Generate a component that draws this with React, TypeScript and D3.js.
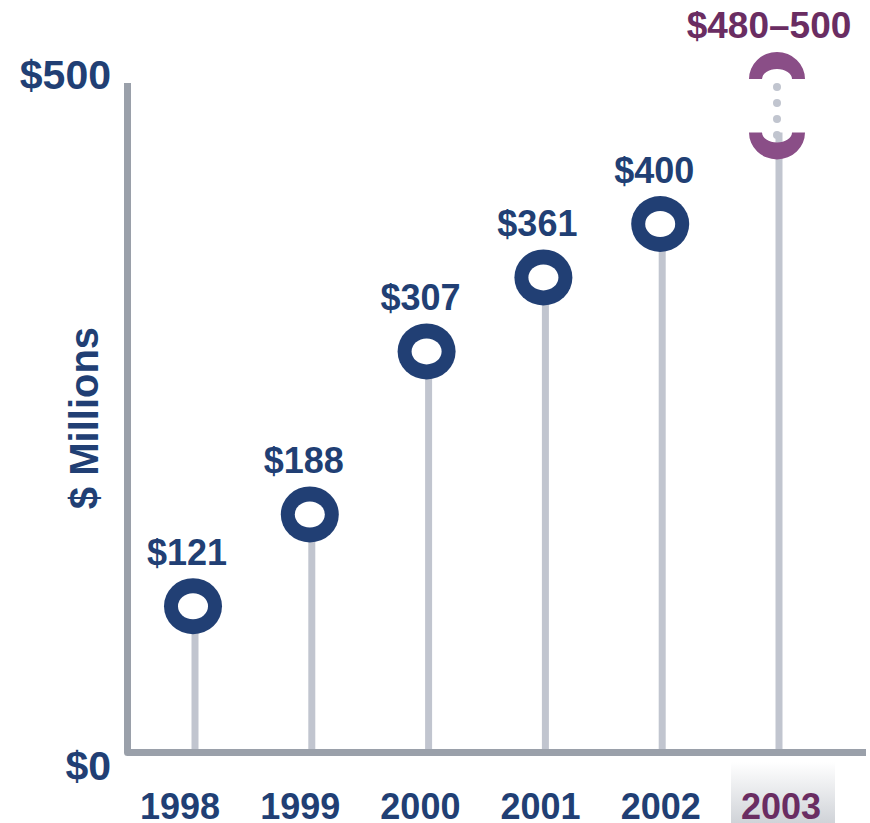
import React from "react";
import * as d3 from "d3";

const years = ["1998", "1999", "2000", "2001", "2002", "2003"];
const actualYears = ["1998", "1999", "2000", "2001", "2002"];
const values = [121, 188, 307, 361, 400];
const valueLabels = ["$121", "$188", "$307", "$361", "$400"];
const projectedYear = "2003";
const projectedRange = [480, 500];
const projectedLabel = "$480–500";
const yTicks = [0, 500];
const yTickLabels = ["$0", "$500"];
const yTitle = "$ Millions";

const W = 870;
const H = 823;
const NAVY = "#213f74";
const PURPLE = "#8a4e87";
const PURPLE_TEXT = "#6a2d62";
const STEM = "#c1c5cf";
const AXIS = "#9aa0aa";
const FONT = "'Liberation Sans', Arial, Helvetica, sans-serif";

export default function App() {
  const x = d3.scalePoint<string>().domain(years).range([195, 779]);
  const xLab = d3.scalePoint<string>().domain(years).range([180, 781]);
  const y = d3.scaleLinear().domain([0, 500]).range([772, 87]);
  const baseY = 752.5;
  const axisX = 127.5;

  const px = x(projectedYear) as number;
  const topCy = y(projectedRange[1]) - 8;
  const botCy = y(projectedRange[0]) + 18;
  const orx = 28, ory = 27, irx = 15, iry = 10;
  const topArc = `M${px - orx},${topCy} A${orx},${ory} 0 0 1 ${px + orx},${topCy} L${px + irx},${topCy} A${irx},${iry} 0 0 0 ${px - irx},${topCy} Z`;
  const botArc = `M${px - orx},${botCy} A${orx},${ory} 0 0 0 ${px + orx},${botCy} L${px + irx},${botCy} A${irx},${iry} 0 0 1 ${px - irx},${botCy} Z`;
  const dots = d3.range(4).map((i) => topCy + 8 + i * 16);

  const labX = xLab(projectedYear) as number;

  return (
    <svg
      width={W}
      height={H}
      style={{ position: "absolute", left: 0, top: 0, background: "#fff" }}
      fontFamily={FONT}
      fontWeight="bold"
    >
      <defs>
        <linearGradient id="g2003" x1="0" y1="0" x2="0" y2="1">
          <stop offset="0" stopColor="#ffffff" />
          <stop offset="1" stopColor="#d0d3d8" />
        </linearGradient>
      </defs>

      {/* stems */}
      {actualYears.map((yr, i) => (
        <line
          key={"s" + yr}
          x1={x(yr)}
          x2={x(yr)}
          y1={y(values[i])}
          y2={baseY}
          stroke={STEM}
          strokeWidth={7}
        />
      ))}
      <line x1={px} x2={px} y1={botCy} y2={baseY} stroke={STEM} strokeWidth={7} />

      {/* axes */}
      <path
        d={`M${axisX},${y(500) - 4} V${baseY} H866`}
        fill="none"
        stroke={AXIS}
        strokeWidth={7}
        strokeLinejoin="round"
      />

      {/* rings */}
      {actualYears.map((yr, i) => (
        <g key={"r" + yr}>
          <ellipse cx={(x(yr) as number) - 2} cy={y(values[i])} rx={29} ry={28} fill={NAVY} />
          <ellipse cx={(x(yr) as number) - 2} cy={y(values[i])} rx={15} ry={13} fill="#fff" />
        </g>
      ))}

      {/* value labels */}
      {actualYears.map((yr, i) => (
        <text
          key={"v" + yr}
          x={(x(yr) as number) - 8}
          y={y(values[i]) - 41}
          textAnchor="middle"
          fontSize={36}
          fill={NAVY}
        >
          {valueLabels[i]}
        </text>
      ))}

      {/* projected */}
      {dots.map((dy, i) => (
        <circle key={"d" + i} cx={px - 2} cy={dy} r={4} fill={STEM} />
      ))}
      <path d={topArc} fill={PURPLE} transform="translate(-2,0)" />
      <path d={botArc} fill={PURPLE} transform="translate(-2,0)" />
      <text x={px - 10} y={topCy - 41} textAnchor="middle" fontSize={37} fill={PURPLE_TEXT}>
        {projectedLabel}
      </text>

      {/* y ticks */}
      {yTicks.map((t, i) => (
        <text
          key={"yt" + t}
          x={111}
          y={i === 0 ? 780 : 89}
          textAnchor="end"
          fontSize={41}
          fill={NAVY}
        >
          {yTickLabels[i]}
        </text>
      ))}
      <text
        transform={`translate(98,418) rotate(-90)`}
        textAnchor="middle"
        fontSize={40}
        fill={NAVY}
      >
        {yTitle}
      </text>

      {/* x labels */}
      <rect x={labX - 50} y={762} width={104} height={H - 762} fill="url(#g2003)" />
      {years.map((yr) => (
        <text
          key={"x" + yr}
          x={xLab(yr)}
          y={819}
          textAnchor="middle"
          fontSize={36}
          fill={yr === projectedYear ? PURPLE_TEXT : NAVY}
        >
          {yr}
        </text>
      ))}
    </svg>
  );
}
